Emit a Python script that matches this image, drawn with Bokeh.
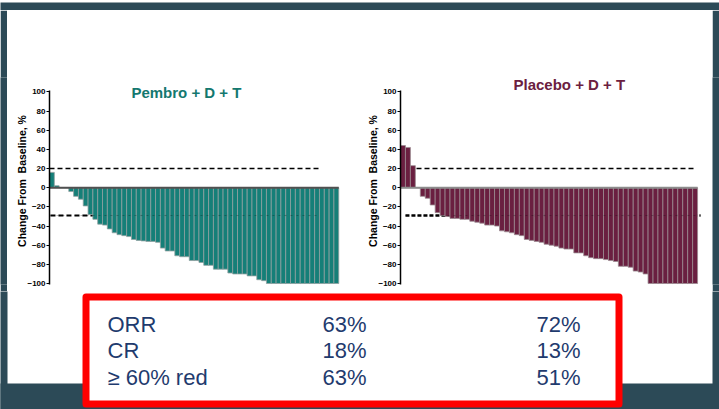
from bokeh.plotting import figure
from bokeh.models import Range1d, Label, FixedTicker, ColumnDataSource
from bokeh.layouts import column, row
from bokeh.embed import file_html
from bokeh.resources import INLINE
from bokeh.core.properties import value

FONT = "Liberation Sans"

# ---------------- data ----------------
pembro_title = "Pembro + D + T"
placebo_title = "Placebo + D + T"
y_axis_title = "Change From\u00a0 Baseline, %"

pembro_change = [16, 2, 0, 0, -4, -9, -12, -19, -28, -33,
                 -38, -39, -43, -47, -49, -50, -51, -54, -55, -55.5,
                 -56, -56, -57, -63, -66, -66, -71, -72, -72, -76,
                 -76, -78, -81, -81, -85, -85, -85, -89, -90, -90,
                 -90, -92, -92, -96, -97, -100, -100, -100, -100, -100,
                 -100, -100, -100, -100, -100, -100, -100, -100, -100, -100]

placebo_change = [44, 42, 23, 0, -9, -11, -18, -26, -29, -30,
                  -32, -32, -33, -33, -35, -36, -37, -39, -39, -40,
                  -45, -46, -47, -49, -50, -54, -55, -56, -57, -59,
                  -60, -61, -63, -64, -64, -68, -68, -71, -73, -74,
                  -74, -75, -76, -77, -82, -82, -83, -87, -88, -90,
                  -100, -100, -100, -100, -100, -100, -100, -100, -100, -100]

thresholds = [20, -29]
y_ticks = [-100, -80, -60, -40, -20, 0, 20, 40, 60, 80, 100]
y_tick_labels = ["\u2212100", "\u221280", "\u221260", "\u221240", "\u221220", "0",
                 "20", "40", "60", "80", "100"]

table_rows = ["ORR", "CR", "\u2265 60% red"]
pembro_stats = ["63%", "18%", "63%"]
placebo_stats = ["72%", "13%", "51%"]

BG = "#2c4a57"


def strip(w, h):
    s = figure(width=w, height=h, output_backend="svg", toolbar_location=None,
               x_axis_location=None, y_axis_location=None, min_border=0,
               background_fill_color=BG, border_fill_color=BG, outline_line_color=None)
    s.xgrid.visible = False
    s.ygrid.visible = False
    return s


def waterfall(vals, bar_color, edge_color, zero_color, title, title_color,
              width, b_left, b_right, b_top, b_bottom, x_end,
              title_x, title_y, upper_span, lower_span, lower_dash, lower_width):
    p = figure(width=width, height=281, output_backend="svg", toolbar_location=None,
               x_axis_location=None, x_range=Range1d(0, x_end), y_range=Range1d(-101, 115),
               min_border_left=b_left, min_border_right=b_right,
               min_border_top=b_top, min_border_bottom=b_bottom,
               background_fill_color="white", border_fill_color="white",
               outline_line_color=None)
    p.xgrid.visible = False
    p.ygrid.visible = False

    n = len(vals)
    p.segment(x0=[upper_span[0]], x1=[upper_span[1]], y0=[thresholds[0]], y1=[thresholds[0]],
              line_color="black", line_width=1.6, line_dash="5 3")
    p.segment(x0=[lower_span[0]], x1=[lower_span[1]], y0=[thresholds[1]], y1=[thresholds[1]],
              line_color="black", line_width=lower_width, line_dash=lower_dash)

    src = ColumnDataSource(dict(x=[i + 0.5 for i in range(n)], top=vals))
    p.vbar(x="x", top="top", bottom=0, width=1, source=src,
           fill_color=bar_color, line_color=edge_color, line_width=0.8)

    p.segment(x0=[lower_span[0]], x1=[lower_span[1]], y0=[thresholds[1]], y1=[thresholds[1]],
              line_color="black", line_width=1.2, line_dash="2 4", line_alpha=0.25)

    p.segment(x0=[0], x1=[n], y0=[0], y1=[0], line_color=zero_color, line_width=2)

    ax = p.yaxis[0]
    ax.bounds = (-101, 101)
    ax.ticker = FixedTicker(ticks=y_ticks)
    ax.major_label_overrides = {t: l for t, l in zip(y_ticks, y_tick_labels)}
    ax.axis_line_color = "black"
    ax.axis_line_width = 1.5
    ax.major_tick_in = 0
    ax.major_tick_out = 3
    ax.major_tick_line_color = "black"
    ax.minor_tick_line_color = None
    ax.major_label_text_font = FONT
    ax.major_label_text_font_size = "8px"
    ax.major_label_text_font_style = "bold"
    ax.major_label_text_color = "black"
    ax.major_label_standoff = 1
    ax.axis_label = y_axis_title
    ax.axis_label_text_font = FONT
    ax.axis_label_text_font_size = "10.5px"
    ax.axis_label_text_font_style = "bold"
    ax.axis_label_text_color = "black"
    ax.axis_label_standoff = -4

    p.add_layout(Label(x=title_x, y=title_y, text=title, text_align="center",
                       text_baseline="middle", text_font=FONT, text_font_size="15px",
                       text_font_style="bold", text_color=title_color))
    return p


p1 = waterfall(pembro_change, "#157f78", "#8fa0a0", "#505050", pembro_title, "#14786f",
               353, 42, 15, 67, 7, 61.4, 28.4, 99,
               (0, 56.2), (0.2, 55.8), "5 3", 1.8)
p2 = waterfall(placebo_change, "#6a1f40", "#9a8a90", "#8c8c8c", placebo_title, "#6b2040",
               352, 40, 7, 62, 5, 61.6, 34.1, 107.5,
               (0, 59.6), (1, 60.6), "4 2", 2.6)

# ---------------- table strip ----------------
p3 = figure(width=719, height=118, output_backend="svg", toolbar_location=None,
            x_axis_location=None, y_axis_location=None,
            x_range=Range1d(0, 719), y_range=Range1d(409, 291),
            min_border=0, background_fill_color="white", border_fill_color="white",
            outline_line_color=None)
p3.xgrid.visible = False
p3.ygrid.visible = False
# dark slide background around the white panel
p3.quad(left=[-20, 712, -20], right=[7, 740, 740], top=[280, 280, 383], bottom=[430, 430, 430],
        fill_color=BG, line_color=None)
p3.quad(left=[85.5], right=[618.5], top=[296.5], bottom=[403.5],
        fill_color="white", line_color="#ff0000", line_width=7, line_join="round")

row_y = [324, 350, 377]
TXT = "#1f3b6e"
p3.text(x=[107] * 3, y=row_y, text=table_rows, text_align="left", text_baseline="middle",
        text_font=value(FONT), text_font_size="22px", text_color=TXT)
p3.text(x=[344] * 3, y=row_y, text=pembro_stats, text_align="center", text_baseline="middle",
        text_font=value(FONT), text_font_size="22px", text_color=TXT)
p3.text(x=[558] * 3, y=row_y, text=placebo_stats, text_align="center", text_baseline="middle",
        text_font=value(FONT), text_font_size="22px", text_color=TXT)

layout = column(strip(719, 10),
                row(strip(7, 281), p1, p2, strip(7, 281)),
                p3)

open("out.html", "w").write(file_html(layout, INLINE))
